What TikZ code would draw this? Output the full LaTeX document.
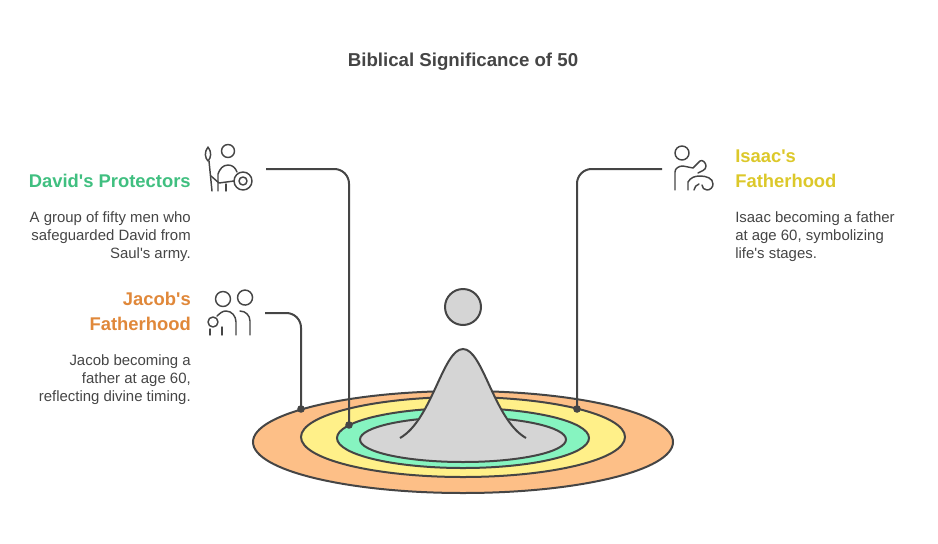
\documentclass[tikz,border=0pt]{standalone}
\usepackage{fontspec}
\setmainfont{Liberation Sans}
\usetikzlibrary{positioning}
\definecolor{ink}{HTML}{454545}
\definecolor{ringorange}{HTML}{FDBF87}
\definecolor{ringyellow}{HTML}{FFF089}
\definecolor{ringgreen}{HTML}{86F4C0}
\definecolor{ringgray}{HTML}{D5D5D5}
\definecolor{davidgreen}{HTML}{40BF80}
\definecolor{jacoborange}{HTML}{E0883A}
\definecolor{isaacyellow}{HTML}{DCC82A}
\newcommand{\ap}{\textquotesingle}

\begin{document}
\begin{tikzpicture}[x=0.75pt,y=-0.75pt,
  ring/.style={draw=ink,line width=1.5pt},
  link/.style={draw=ink,line width=1.5pt,rounded corners=11pt},
  icon/.style={draw=ink,line width=1.1pt,line cap=round,line join=round},
  heading/.style={inner sep=0pt,font=\bfseries\fontsize{13.8}{18.75}\selectfont},
  body/.style={inner sep=0pt,text=ink,font=\fontsize{11.2}{13.5}\selectfont}]
\path[use as bounding box] (0,0) rectangle (938,543);

\node[text=ink,font=\bfseries\fontsize{14}{16}\selectfont] (title) at (463,62) {Biblical Significance of 50};

% rings
\filldraw[ring,fill=ringorange] (463,442) ellipse (210 and 51);
\filldraw[ring,fill=ringyellow] (463,437) ellipse (162 and 40);
\filldraw[ring,fill=ringgreen] (463,438) ellipse (126 and 30);
\filldraw[ring,fill=ringgray] (463,439.5) ellipse (103 and 22.5);

% peak and drop
\fill[ringgray] (400,438) .. controls (432,420) and (443,349) .. (463,349)
  .. controls (483,349) and (494,420) .. (526,438) -- cycle;
\draw[ring] (400,438) .. controls (432,420) and (443,349) .. (463,349)
  .. controls (483,349) and (494,420) .. (526,438);
\filldraw[ring,fill=ringgray] (463,307) circle (18);

% texts
\node[heading,text=davidgreen,anchor=north east] (davidhead) at (191,174) {David\ap s Protectors};
\node[body,align=right,anchor=north east] (davidtxt) at (191,211)
  {A group of fifty men who\\safeguarded David from\\Saul\ap s army.};
\node[heading,text=jacoborange,align=right,anchor=north east] (jacobhead) at (191,292) {Jacob\ap s\\Fatherhood};
\node[body,align=right,anchor=north east] (jacobtxt) at (191,354)
  {Jacob becoming a\\father at age 60,\\reflecting divine timing.};
\node[heading,text=isaacyellow,align=left,anchor=north west] (isaachead) at (735,150) {Isaac\ap s\\Fatherhood};
\node[body,align=left,anchor=north west] (isaactxt) at (735,211)
  {Isaac becoming a father\\at age 60, symbolizing\\life\ap s stages.};

% connectors
\coordinate (davidstart) at (266,169);
\coordinate (davidend) at (349,425);
\coordinate (jacobstart) at (265,313);
\coordinate (jacobend) at (301,409);
\coordinate (isaacstart) at (662,169);
\coordinate (isaacend) at (577,409);
\draw[link] (davidstart) -| (davidend);
\draw[link] (jacobstart) -| (jacobend);
\draw[link] (isaacstart) -| (isaacend);
\foreach \p in {davidend,jacobend,isaacend}
  \fill[ink] (\p) circle (3.8);

% icon: warrior
\draw[icon] (228,151) circle (6.5);
\draw[icon] (208,147) .. controls (204,152) and (205,158) .. (208,161) .. controls (211,158) and (212,152) .. (208,147);
\draw[icon] (209,161) -- (212,191);
\draw[icon] (218,191) -- (218,174) to[out=70,in=180] (228,165) to[out=0,in=110] (237,172);
\draw[icon] (226,191) -- (226,184);
\draw[icon] (211,176) -- (219,183) -- (234,181);
\draw[icon] (243,181) circle (9);
\draw[icon] (243,181) circle (4);

% icon: father and children
\draw[icon] (223,299) circle (7.5);
\draw[icon] (238,295) arc (200:-160:7.5);
\draw[icon] (236,335) -- (236,322) to[out=90,in=0] (226,311) to[out=180,in=40] (217,316);
\draw[icon] (250,335) -- (250,321) to[out=90,in=0] (240,311);
\draw[icon] (213,322) circle (5);
\draw[icon] (210,329) -- (210,335);
\draw[icon] (222,327) -- (222,335);

% icon: father holding child
\draw[icon] (682,153) circle (7);
\draw[icon] (675,190) -- (675,172) to[out=90,in=180] (683,166) -- (693,168) -- (700,161) to[out=40,in=90] (706,166) to[out=-90,in=30] (698,173);
\draw[icon] (688,190) -- (688,182) to[out=60,in=180] (700,176) to[out=0,in=90] (713,184) to[out=-90,in=0] (707,190) to[out=180,in=-90] (702,185);
\draw[icon] (694,190) to[out=80,in=200] (699,184);

\end{tikzpicture}
\end{document}
